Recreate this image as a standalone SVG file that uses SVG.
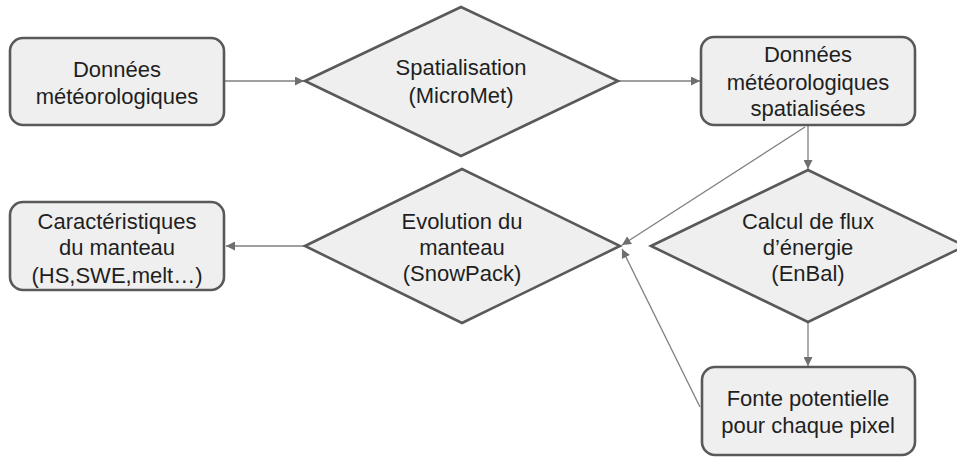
<svg xmlns="http://www.w3.org/2000/svg" width="957" height="457" viewBox="0 0 957 457">
<defs>
<marker id="ah" viewBox="0 0 10 10" refX="10" refY="5" markerWidth="9" markerHeight="9" markerUnits="userSpaceOnUse" orient="auto">
<path d="M0,0 L10,5 L0,10 z" fill="#6f6f6f"/>
</marker>
<style>
.box{fill:#efefef;stroke:#595959;stroke-width:2.6}
.t{font-family:"Liberation Sans",Arial,sans-serif;font-size:22px;fill:#1f1f1f;text-anchor:middle}
.c{stroke:#7f7f7f;stroke-width:1.3;fill:none;marker-end:url(#ah)}
</style>
</defs>
<rect width="957" height="457" fill="#ffffff"/>
<g id="connectors">
<line class="c" x1="224" y1="81" x2="304" y2="81"/>
<line class="c" x1="618" y1="81" x2="700" y2="81"/>
<line class="c" x1="808" y1="126" x2="808" y2="169"/>
<line class="c" x1="805" y1="127" x2="622" y2="245"/>
<line class="c" x1="808" y1="322" x2="808" y2="366"/>
<line class="c" x1="700" y1="407" x2="622" y2="249"/>
<line class="c" x1="305" y1="246" x2="226" y2="246"/>
</g>
<g id="n1">
<rect class="box" x="10" y="38" width="214" height="87" rx="13"/>
<text class="t" x="117" y="77">Données</text>
<text class="t" x="117" y="104">météorologiques</text>
</g>
<g id="n2">
<polygon class="box" points="305,81 461,7 618,81 461,156"/>
<text class="t" x="461" y="75">Spatialisation</text>
<text class="t" x="461" y="103">(MicroMet)</text>
</g>
<g id="n3">
<rect class="box" x="701" y="37" width="214" height="88" rx="13"/>
<text class="t" x="808" y="62">Données</text>
<text class="t" x="808" y="90">météorologiques</text>
<text class="t" x="808" y="116">spatialisées</text>
</g>
<g id="n4">
<polygon class="box" points="651,246 808,170 965,246 808,322"/>
<text class="t" x="808" y="229">Calcul de flux</text>
<text class="t" x="808" y="255">d’énergie</text>
<text class="t" x="808" y="281">(EnBal)</text>
</g>
<g id="n5">
<rect class="box" x="702" y="367" width="213" height="88" rx="13"/>
<text class="t" x="808" y="406">Fonte potentielle</text>
<text class="t" x="808" y="433">pour chaque pixel</text>
</g>
<g id="n6">
<polygon class="box" points="305,246 462,169 620,246 462,323"/>
<text class="t" x="462" y="229">Evolution du</text>
<text class="t" x="462" y="255">manteau</text>
<text class="t" x="462" y="281">(SnowPack)</text>
</g>
<g id="n7">
<rect class="box" x="10" y="202" width="214" height="88" rx="13"/>
<text class="t" x="117" y="229">Caractéristiques</text>
<text class="t" x="117" y="255">du manteau</text>
<text class="t" x="117" y="283">(HS,SWE,melt…)</text>
</g>
</svg>
